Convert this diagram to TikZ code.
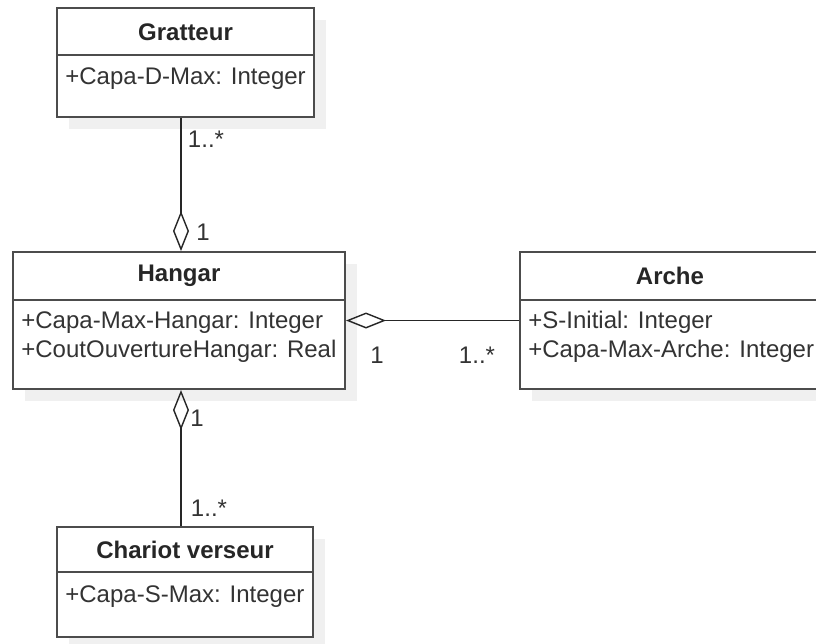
\documentclass[tikz,border=0pt]{standalone}
\usepackage{fontspec}
\setmainfont{Liberation Sans}
\usetikzlibrary{arrows.meta,positioning,shadows}

\begin{document}
\begin{tikzpicture}[x=0.5pt, y=-0.5pt,
  umlbox/.style={draw=black!70, line width=1pt, fill=white, inner sep=0pt,
    drop shadow={shadow xshift=6pt, shadow yshift=-6pt, fill=black!6, opacity=1}},
  cname/.style={font=\fontsize{12}{14}\selectfont\bfseries, text=black!85},
  attr/.style={font=\fontsize{12}{14}\selectfont, text=black!80, anchor=west,
    inner sep=0pt, text height=9pt, text depth=3pt},
  sep/.style={draw=black!70, line width=1pt},
  mult/.style={font=\fontsize{12}{14}\selectfont, text=black!80, inner sep=0pt},
  agg/.style={draw=black!85, line width=0.7pt,
    -{Diamond[open, length=20pt, width=8pt, line width=0.7pt]}}]
  \path[use as bounding box, fill=white] (0,0) rectangle (816,644);

  % classes
  \node[umlbox, minimum width=128.5pt, minimum height=54.5pt] (gratteur) at (185.5,62.5) {};
  \node[cname] (gratteur-t) at ([yshift=-12.5pt]gratteur.north) {Gratteur};
  \draw[sep] ([yshift=-24pt]gratteur.north west) -- ([yshift=-24pt]gratteur.north east);
  \node[attr] (gratteur-a1) at ([xshift=4.5pt, yshift=-35.5pt]gratteur.north west) {+Capa-D-Max: Integer};

  \node[umlbox, minimum width=166pt, minimum height=68.5pt] (hangar) at (179,320.5) {};
  \node[cname] (hangar-t) at ([yshift=-12.5pt]hangar.north) {Hangar};
  \draw[sep] ([yshift=-24.5pt]hangar.north west) -- ([yshift=-24.5pt]hangar.north east);
  \node[attr] (hangar-a1) at ([xshift=4.5pt, yshift=-35.5pt]hangar.north west) {+Capa-Max-Hangar: Integer};
  \node[attr] (hangar-a2) at ([xshift=4.5pt, yshift=-50pt]hangar.north west) {+CoutOuvertureHangar: Real};

  \node[umlbox, minimum width=150pt, minimum height=68.5pt] (arche) at (670,320.5) {};
  \node[cname] (arche-t) at ([yshift=-12.5pt]arche.north) {Arche};
  \draw[sep] ([yshift=-24.5pt]arche.north west) -- ([yshift=-24.5pt]arche.north east);
  \node[attr] (arche-a1) at ([xshift=4.5pt, yshift=-35.5pt]arche.north west) {+S-Initial: Integer};
  \node[attr] (arche-a2) at ([xshift=4.5pt, yshift=-50pt]arche.north west) {+Capa-Max-Arche: Integer};

  \node[umlbox, minimum width=128pt, minimum height=55pt] (chariot) at (185,582) {};
  \node[cname] (chariot-t) at ([yshift=-12pt]chariot.north) {Chariot verseur};
  \draw[sep] ([yshift=-23pt]chariot.north west) -- ([yshift=-23pt]chariot.north east);
  \node[attr] (chariot-a1) at ([xshift=4.5pt, yshift=-35pt]chariot.north west) {+Capa-S-Max: Integer};

  % aggregations
  \coordinate (lx) at (181,0);
  \draw[agg] (gratteur.south -| lx) -- (hangar.north -| lx);
  \draw[agg] (chariot.north -| lx) -- (hangar.south -| lx);
  \draw[agg] (arche.west) -- (hangar.east);

  % multiplicities
  \node[mult] (m-gr) at (206,139) {1..*};
  \node[mult] (m-hg1) at (203,232) {1};
  \node[mult] (m-hg2) at (197,418) {1};
  \node[mult] (m-ch) at (209,508) {1..*};
  \node[mult] (m-hg3) at (377,355) {1};
  \node[mult] (m-ar) at (477,355) {1..*};
\end{tikzpicture}
\end{document}
